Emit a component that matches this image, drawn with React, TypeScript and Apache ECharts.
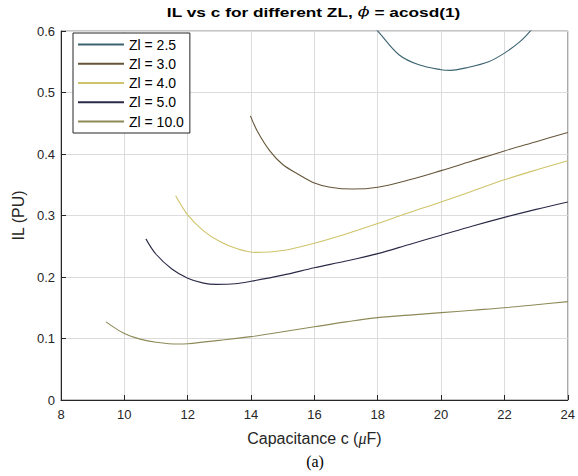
import React, { useEffect, useRef } from "react";
import * as echarts from "echarts";

const seriesNames = ["Zl = 2.5", "Zl = 3.0", "Zl = 4.0", "Zl = 5.0", "Zl = 10.0"];
const seriesColors = ["#3b6470", "#65563a", "#cfc46a", "#2a2a48", "#8e8a58"];

const x25 = [17.8, 18.05, 18.68, 19.3, 20.0, 20.3, 20.78, 21.5, 22.0, 22.5, 22.82, 23.0];
const y25 = [0.612, 0.597, 0.561, 0.545, 0.537, 0.536, 0.54, 0.55, 0.564, 0.583, 0.6, 0.612];

const x30 = [13.98, 14.2, 14.58, 15, 15.53, 16, 16.5, 17.2, 18, 19, 20, 21, 22, 23, 24];
const y30 = [0.462, 0.437, 0.406, 0.383, 0.366, 0.353, 0.346, 0.343, 0.346, 0.358, 0.373, 0.389, 0.405, 0.42, 0.435];

const x40 = [11.62, 12, 12.5, 13, 13.5, 14.15, 15, 16, 17, 18, 19, 20, 21, 22, 23, 24];
const y40 = [0.332, 0.301, 0.275, 0.258, 0.247, 0.24, 0.243, 0.255, 0.27, 0.287, 0.305, 0.322, 0.34, 0.358, 0.374, 0.389];

const x50 = [10.68, 11, 11.5, 12, 12.5, 12.9, 13.5, 14, 15, 16, 17, 18, 19, 20, 21, 22, 23, 24];
const y50 = [0.262, 0.237, 0.213, 0.198, 0.19, 0.188, 0.189, 0.193, 0.203, 0.215, 0.226, 0.238, 0.253, 0.268, 0.283, 0.297, 0.31, 0.322];

const x100 = [9.42, 10, 10.5, 11, 11.7, 12, 13, 14, 15, 16, 17, 18, 19, 20, 21, 22, 23, 24];
const y100 = [0.127, 0.108, 0.099, 0.094, 0.091, 0.0915, 0.097, 0.103, 0.111, 0.119, 0.127, 0.134, 0.138, 0.142, 0.146, 0.15, 0.155, 0.16];

const xTicks = [8, 10, 12, 14, 16, 18, 20, 22, 24];
const yTicks = [0, 0.1, 0.2, 0.3, 0.4, 0.5, 0.6];

const titleText = "IL vs c for different ZL, {i|\u03D5} = acosd(1)";
const xName = "Capacitance c ({i|μ}F)";
const yName = "IL (PU)";
const caption = "(a)";

const allX = [x25, x30, x40, x50, x100];
const allY = [y25, y30, y40, y50, y100];

const zip = (xs: number[], ys: number[]) => xs.map((x, i) => [x, ys[i]]);

export default function App() {
  const ref = useRef<HTMLDivElement>(null);
  useEffect(() => {
    if (!ref.current) return;
    const chart = echarts.init(ref.current, null, { renderer: "svg" });
    const font = "Arial, 'Liberation Sans', sans-serif";
    chart.setOption({
      animation: false,
      backgroundColor: "#ffffff",
      legend: {
        orient: "vertical",
        left: 73,
        top: 33,
        padding: [4.5, 6, 4.5, 4],
        itemGap: 5.25,
        itemWidth: 46,
        itemHeight: 13,
        backgroundColor: "#fff",
        borderColor: "#262626",
        borderWidth: 1,
        borderRadius: 0,
        itemStyle: { opacity: 0 },
        textStyle: { fontFamily: font, fontSize: 14, color: "#000" },
        data: seriesNames,
      },
      grid: {
        left: 61,
        top: 31,
        width: 509,
        height: 369,
        show: true,
        borderColor: "#8a8a8a",
        borderWidth: 1,
        backgroundColor: "transparent",
      },
      xAxis: {
        type: "value",
        min: xTicks[0],
        max: xTicks[xTicks.length - 1],
        interval: 2,
        name: xName,
        nameLocation: "middle",
        nameGap: 30,
        nameTextStyle: {
          fontFamily: font,
          fontSize: 16,
          color: "#262626",
          rich: { i: { fontFamily: "'Liberation Serif', serif", fontStyle: "italic", fontSize: 16, color: "#262626" } },
        },
        axisLine: { show: true, lineStyle: { color: "#262626", width: 1 } },
        axisTick: { show: true, inside: true, length: 5, lineStyle: { color: "#262626" } },
        axisLabel: { fontFamily: font, fontSize: 13, color: "#262626", margin: 8 },
        splitLine: { show: true, lineStyle: { color: "#dcdcdc", width: 1 } },
      },
      yAxis: {
        type: "value",
        min: yTicks[0],
        max: yTicks[yTicks.length - 1],
        interval: 0.1,
        name: yName,
        nameLocation: "middle",
        nameGap: 30,
        nameTextStyle: { fontFamily: font, fontSize: 16, color: "#262626" },
        axisLine: { show: true, lineStyle: { color: "#262626", width: 1 } },
        axisTick: { show: true, inside: true, length: 5, lineStyle: { color: "#262626" } },
        axisLabel: {
          fontFamily: font,
          fontSize: 13,
          color: "#262626",
          margin: 6,
          formatter: (v: number) => String(Math.round(v * 10) / 10),
        },
        splitLine: { show: true, lineStyle: { color: "#dcdcdc", width: 1 } },
      },
      graphic: [
        {
          type: "text",
          x: 313.5,
          y: 12,
          scaleX: 1.33,
          style: {
            text: titleText,
            align: "center",
            verticalAlign: "middle",
            font: "bold 13px Arial, 'Liberation Sans', sans-serif",
            fill: "#000",
            rich: {
              i: { fontFamily: "'DejaVu Serif', 'Liberation Serif', serif", fontStyle: "italic", fontSize: 13, fill: "#000", fontWeight: "normal" },
            },
          },
        },
        {
          type: "text",
          x: 315,
          y: 461,
          style: {
            text: caption,
            align: "center",
            verticalAlign: "middle",
            font: "16px 'Liberation Serif', 'Times New Roman', serif",
            fill: "#000",
          },
        },
      ],
      series: seriesNames.map((name, i) => ({
        name,
        type: "line",
        data: zip(allX[i], allY[i]),
        smooth: 0.35,
        symbol: "none",
        showSymbol: false,
        clip: true,
        color: seriesColors[i],
        lineStyle: { color: seriesColors[i], width: 1.1 },
      })),
    });
    return () => chart.dispose();
  }, []);
  return <div ref={ref} style={{ position: "fixed", left: 0, top: 0, width: 578, height: 476 }} />;
}
